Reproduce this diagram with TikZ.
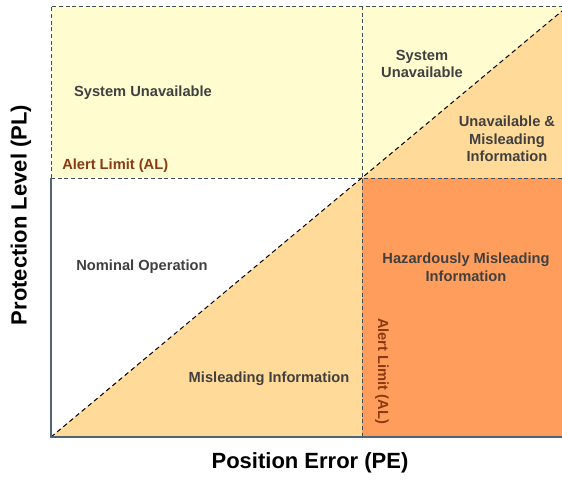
\documentclass[tikz,border=0pt]{standalone}
\usepackage{fontspec}
\setmainfont{Liberation Sans}
\definecolor{paleyellow}{HTML}{FFFDD0}
\definecolor{peach}{HTML}{FFDA98}
\definecolor{hazard}{HTML}{FF9E5C}
\definecolor{txtgray}{HTML}{404040}
\definecolor{albrown}{HTML}{8B3A12}
\definecolor{slate}{HTML}{3C4E5A}
\definecolor{axisgray}{HTML}{4F6474}
\tikzset{
  region/.style={font=\bfseries\fontsize{11}{13.2}\selectfont, text=txtgray, align=center, inner sep=0pt},
  allabel/.style={font=\bfseries\fontsize{11}{13}\selectfont, text=albrown, inner sep=0pt},
  axislabel/.style={font=\bfseries\fontsize{16.5}{19}\selectfont, text=black, inner sep=0pt},
  limitline/.style={draw=slate, line width=0.75pt, dash pattern=on 3pt off 2pt},
  diagline/.style={draw=black, line width=0.75pt, dash pattern=on 3.5pt off 2.5pt},
  axisline/.style={draw=axisgray, line width=1pt}
}
\begin{document}
\begin{tikzpicture}[x=0.75pt,y=0.75pt]
\useasboundingbox (0,0) rectangle (562,480);
% corners
\coordinate (BL) at (51,43);
\coordinate (TL) at (51,474);
\coordinate (TR) at (562,474);
\coordinate (BR) at (562,43);
\coordinate (C) at (362,302);
\coordinate (ALtop) at (362,474);
\coordinate (ALbot) at (362,43);
\coordinate (ALleft) at (51,302);
\coordinate (ALright) at (562,302);
\coordinate (DR) at (562,469);
% fills
\fill[paleyellow] (ALleft) rectangle (TR);
\fill[peach] (C) -- (DR) -- (ALright) -- cycle;
\fill[peach] (BL) -- (C) -- (ALbot) -- cycle;
\fill[hazard] (ALbot) rectangle (ALright);
% lines
\draw[limitline] (ALleft) -- (TL) -- (TR) -- (BR);
\draw[limitline] (ALleft) -- (ALright);
\draw[limitline] (ALtop) -- (ALbot);
\draw[diagline] (BL) -- (DR);
\draw[axisline] (ALleft) -- (BL) -- (BR);
% texts
\node[region] (su1) at (143,387) {System Unavailable};
\node[allabel, anchor=west] (al1) at (62,314) {Alert Limit (AL)};
\node[region] (su2) at (422,416) {System\\Unavailable};
\node[region] (umi) at (507,341) {Unavailable \&\\Misleading\\Information};
\node[region] (nom) at (142,213) {Nominal Operation};
\node[region] (hmi) at (466,213) {Hazardously Misleading\\Information};
\node[region] (mi) at (269,101) {Misleading Information};
\node[allabel, rotate=-90] (al2) at (382,109) {Alert Limit (AL)};
\node[axislabel, rotate=90] (pl) at (21,265) {Protection Level (PL)};
\node[axislabel] (pe) at (310,17) {Position Error (PE)};
\end{tikzpicture}
\end{document}
